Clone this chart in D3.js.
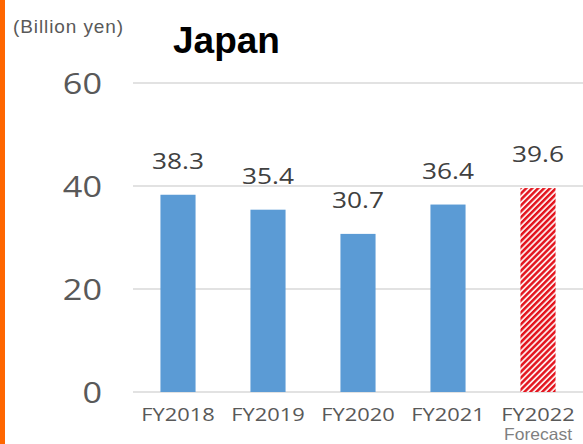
<!DOCTYPE html>
<html><head><meta charset="utf-8">
<script src="https://cdn.jsdelivr.net/npm/d3@7"></script>
<style>html,body{margin:0;padding:0;background:#fff;}</style>
</head><body>
<svg id="c" width="583" height="444"></svg>
<script>
const categories = ["FY2018","FY2019","FY2020","FY2021","FY2022"];
const values = [38.3, 35.4, 30.7, 36.4, 39.6];
const forecastFlags = [false,false,false,false,true];
const yTicks = [0,20,40,60];
const unitLabel = "(Billion yen)";
const title = "Japan";
const forecastLabel = "Forecast";

const svg = d3.select("#c");
const defs = svg.append("defs");
const pat = defs.append("pattern").attr("id","hatch").attr("patternUnits","userSpaceOnUse")
  .attr("width",4.2).attr("height",4.2).attr("patternTransform","rotate(45)");
pat.append("rect").attr("width",4.2).attr("height",4.2).attr("fill","#fde8e8");
pat.append("rect").attr("width",2.4).attr("height",4.2).attr("fill","#e3121c");

svg.append("rect").attr("x",0).attr("y",0).attr("width",5).attr("height",444).attr("fill","#ff6600");

const x = d3.scaleBand().domain(categories).range([133,583]).paddingInner(0.61).paddingOuter(0.305);
const y = d3.scaleLinear().domain([0,60]).range([392,83]);

// gridlines
svg.append("g").selectAll("line").data(yTicks).join("line")
  .attr("x1",133).attr("x2",583).attr("y1",d=>y(d)).attr("y2",d=>y(d))
  .attr("stroke","#d9d9d9").attr("stroke-width",1.3);

// y axis labels
const yAxis = d3.axisLeft(y).tickValues(yTicks).tickSize(0).tickPadding(0);
const gy = svg.append("g").attr("transform","translate(102,0)").call(yAxis);
gy.select(".domain").remove();
gy.selectAll("text").attr("font-family","'Open Sans', sans-serif").attr("font-size",29)
  .attr("fill","#595959").attr("dy","0.36em").attr("transform","scale(1.18,1)");

// bars
svg.append("g").selectAll("rect").data(values).join("rect")
  .attr("x",(d,i)=>x(categories[i])).attr("width",x.bandwidth())
  .attr("y",d=>y(d)).attr("height",d=>y(0)-y(d))
  .attr("fill",(d,i)=>forecastFlags[i]?"url(#hatch)":"#5b9bd5");

// value labels
svg.append("g").selectAll("g").data(values).join("g")
  .attr("transform",(d,i)=>`translate(${x(categories[i])+x.bandwidth()/2},${y(d)-26})`)
  .append("text")
  .attr("text-anchor","middle").attr("transform","scale(1.25,1)")
  .attr("font-family","'Open Sans', sans-serif").attr("font-size",21)
  .attr("fill","#404040")
  .text(d=>d.toFixed(1));

// x axis labels
const xAxis = d3.axisBottom(x).tickSize(0).tickPadding(0);
const gx = svg.append("g").attr("transform","translate(0,407)").call(xAxis);
gx.select(".domain").remove();
gx.selectAll("text").attr("font-family","'Open Sans', sans-serif").attr("font-size",19)
  .attr("fill","#595959").attr("dy","0.72em").attr("transform","scale(1.15,1)");

svg.append("g").attr("transform",`translate(${x("FY2022")+x.bandwidth()/2},440)`)
  .append("text").attr("text-anchor","middle").attr("font-family","Arial, 'Liberation Sans', sans-serif")
  .attr("font-size",16.5).attr("fill","#7f7f7f").attr("transform","scale(1.06,1)").text(forecastLabel);

svg.append("text").attr("x",13).attr("y",33)
  .attr("font-family","Arial, 'Liberation Sans', sans-serif").attr("font-size",19)
  .attr("fill","#595959").style("letter-spacing","0.9px").text(unitLabel);

svg.append("text").attr("x",173).attr("y",53)
  .attr("font-family","Arial, 'Liberation Sans', sans-serif").attr("font-size",37).attr("font-weight","bold")
  .attr("fill","#000").text(title);
</script>
</body></html>
